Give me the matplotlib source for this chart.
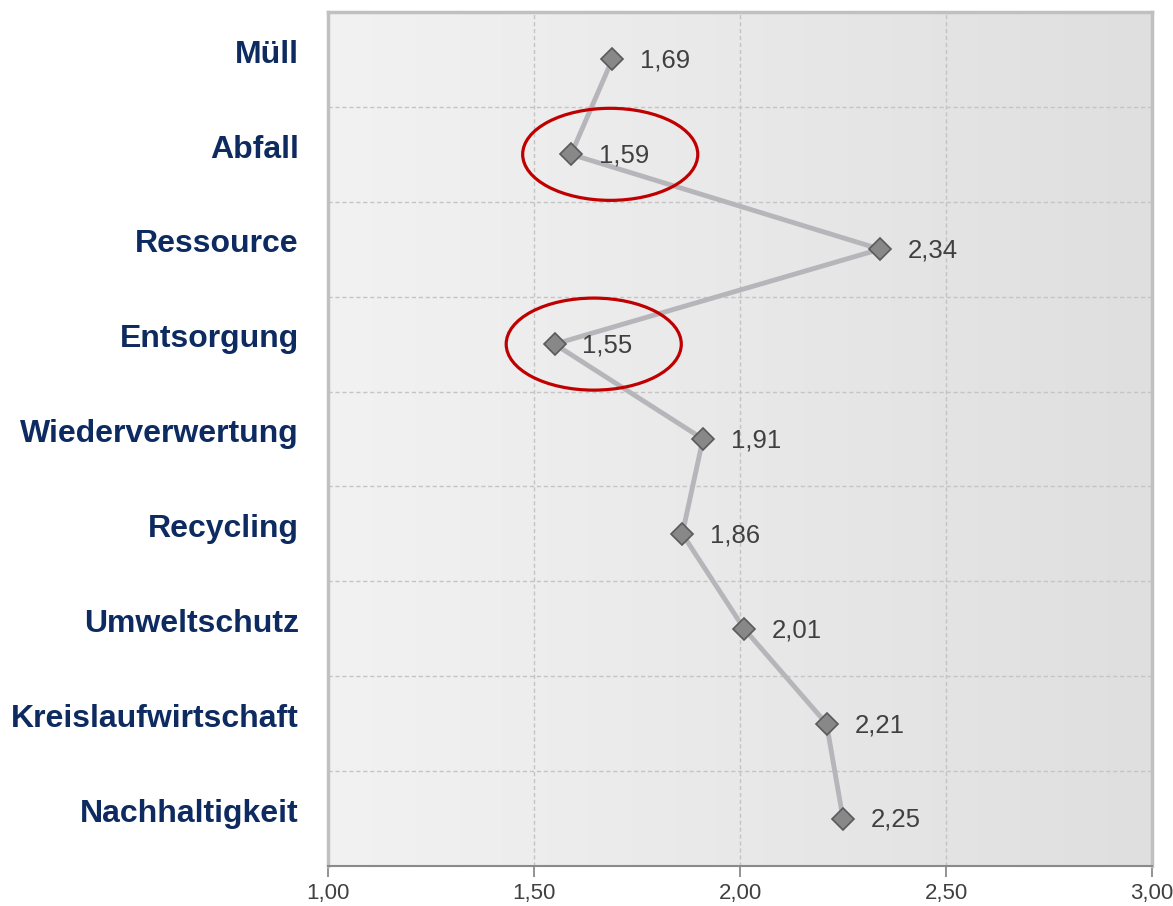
import matplotlib.pyplot as plt
import matplotlib.transforms as mtransforms
import numpy as np
from matplotlib.patches import Ellipse

categories = ["Müll", "Abfall", "Ressource", "Entsorgung", "Wiederverwertung",
              "Recycling", "Umweltschutz", "Kreislaufwirtschaft", "Nachhaltigkeit"]
values = [1.69, 1.59, 2.34, 1.55, 1.91, 1.86, 2.01, 2.21, 2.25]
highlight = ["Abfall", "Entsorgung"]
xticks = [1.00, 1.50, 2.00, 2.50, 3.00]

plt.rcParams["font.family"] = ["Liberation Sans", "DejaVu Sans"]

fig = plt.figure(figsize=(11.73, 9.06), dpi=100)
ax = fig.add_axes([328 / 1173, 1 - 866 / 906, (1152 - 328) / 1173, (866 - 12) / 906])

y = np.arange(len(categories))

# background gradient
grad = np.linspace(0, 1, 256).reshape(1, -1)
ax.imshow(grad, extent=[1.0, 3.0, len(categories) - 0.5, -0.5], aspect="auto",
          cmap=plt.matplotlib.colors.LinearSegmentedColormap.from_list("bg", ["#f2f2f2", "#dfdfdf"]),
          zorder=0)

ax.set_xlim(1.0, 3.0)
ax.set_ylim(len(categories) - 0.5, -0.5)

# grid
for xv in xticks[1:-1]:
    ax.axvline(xv, color="#c4c4c4", lw=1, ls=(0, (3, 2)), zorder=1)
for yv in y[:-1] + 0.5:
    ax.axhline(yv, color="#c4c4c4", lw=1, ls=(0, (3, 2)), zorder=1)

ax.plot(values, y, color="#b6b6ba", lw=3.5, zorder=2)
ax.plot(values, y, ls="none", marker="D", ms=11.5, mfc="#888888", mec="#5a5a5a", mew=1.2, zorder=3)

for v, yy in zip(values, y):
    ax.annotate(f"{v:.2f}".replace(".", ","), (v, yy), xytext=(20, -1), textcoords="offset points",
                va="center", ha="left", fontsize=18.5, color="#404040", zorder=4)

for cat in highlight:
    i = categories.index(cat)
    ax.add_patch(Ellipse((values[i] + 0.095, i), 0.425, 0.97, fill=False,
                         ec="#c00000", lw=2.3, zorder=5))

ax.set_yticks(y)
ax.set_yticklabels(categories, fontsize=23, fontweight="bold", color="#0d2b60")
ax.tick_params(axis="y", length=0, pad=21)
shift = mtransforms.ScaledTranslation(0, 6 / 72, fig.dpi_scale_trans)
for lab in ax.get_yticklabels():
    lab.set_transform(lab.get_transform() + shift)

ax.set_xticks(xticks)
ax.set_xticklabels([f"{t:.2f}".replace(".", ",") for t in xticks], fontsize=16, color="#404040")
ax.tick_params(axis="x", length=8, width=1.2, color="#808080", pad=4)

for s in ["top", "left", "right"]:
    ax.spines[s].set_color("#c0c0c0")
    ax.spines[s].set_linewidth(2.5)
ax.spines["bottom"].set_color("#8a8a8a")
ax.spines["bottom"].set_linewidth(1.5)

fig.savefig("out.png", dpi=100)
